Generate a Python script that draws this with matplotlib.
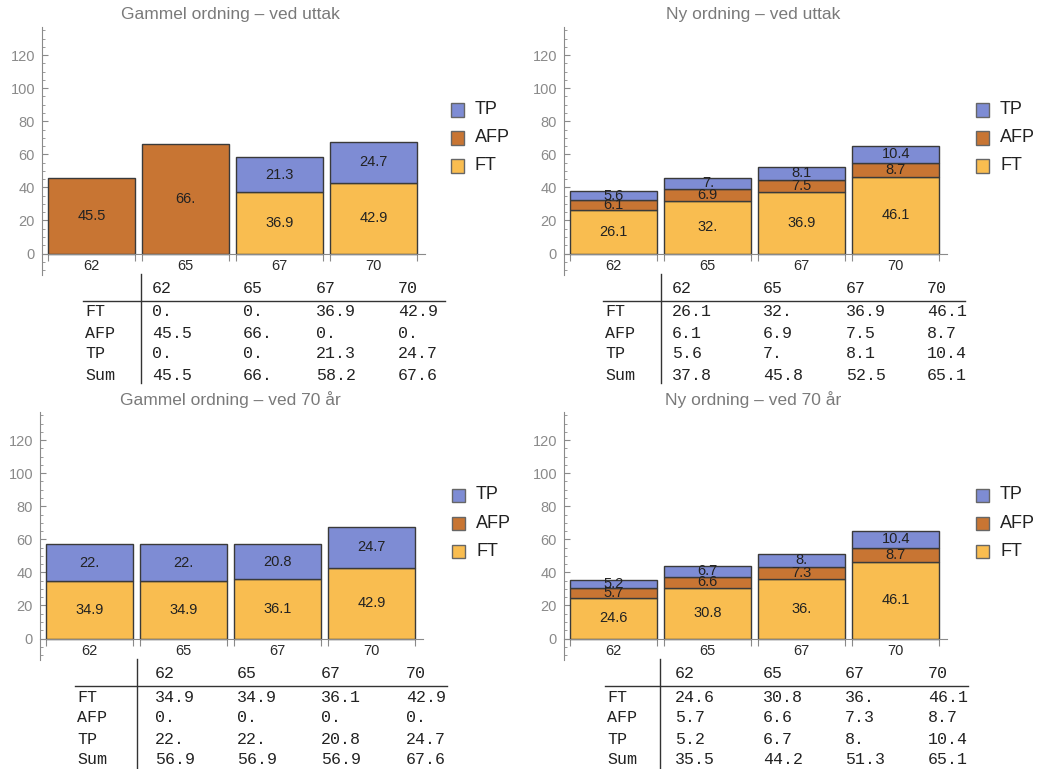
import matplotlib
matplotlib.use("Agg")
import matplotlib.pyplot as plt
from matplotlib.lines import Line2D
from matplotlib.patches import Rectangle
import numpy as np

W, H = 1039, 769

ages = ["62", "65", "67", "70"]
series = ["FT", "AFP", "TP"]

titles = ["Gammel ordning \u2013 ved uttak", "Ny ordning \u2013 ved uttak",
          "Gammel ordning \u2013 ved 70 \u00e5r", "Ny ordning \u2013 ved 70 \u00e5r"]

# gammel ordning, ved uttak
go_uttak_ft = [0, 0, 36.9, 42.9]
go_uttak_afp = [45.5, 66, 0, 0]
go_uttak_tp = [0, 0, 21.3, 24.7]
go_uttak_sum = [45.5, 66, 58.2, 67.6]

# ny ordning, ved uttak
ny_uttak_ft = [26.1, 32, 36.9, 46.1]
ny_uttak_afp = [6.1, 6.9, 7.5, 8.7]
ny_uttak_tp = [5.6, 7, 8.1, 10.4]
ny_uttak_sum = [37.8, 45.8, 52.5, 65.1]

# gammel ordning, ved 70 aar
go_70_ft = [34.9, 34.9, 36.1, 42.9]
go_70_afp = [0, 0, 0, 0]
go_70_tp = [22, 22, 20.8, 24.7]
go_70_sum = [56.9, 56.9, 56.9, 67.6]

# ny ordning, ved 70 aar
ny_70_ft = [24.6, 30.8, 36, 46.1]
ny_70_afp = [5.7, 6.6, 7.3, 8.7]
ny_70_tp = [5.2, 6.7, 8, 10.4]
ny_70_sum = [35.5, 44.2, 51.3, 65.1]

panels = [
    (go_uttak_ft, go_uttak_afp, go_uttak_tp, go_uttak_sum),
    (ny_uttak_ft, ny_uttak_afp, ny_uttak_tp, ny_uttak_sum),
    (go_70_ft, go_70_afp, go_70_tp, go_70_sum),
    (ny_70_ft, ny_70_afp, ny_70_tp, ny_70_sum),
]

colors = {"FT": "#F9BD50", "AFP": "#C87533", "TP": "#7E8CD4"}

# layout in pixels: y-axis x, plot top, title x, legend x, table layout
axis_x = [42, 564, 40, 564]
row_off = [0, 0, 385, 385]
title_x = [230, 753, 230, 753]
legend_x = [451, 976, 452, 976]
tab_label_x = [85, 605, 77, 607]
tab_vline_x = [141, 661, 137, 660]
tab_cols = [[152, 243, 316, 398], [672, 763, 846, 927],
            [155, 237, 321, 406], [675, 763, 845, 928]]
tab_right = [445, 965, 447, 968]


def fmt(v):
    if float(v).is_integer():
        return f"{int(v)}."
    return f"{v}"


def fx(x):
    return x / W


def fy(y):
    return 1 - y / H


fig = plt.figure(figsize=(W / 100, H / 100), dpi=100)
fig.patch.set_facecolor("white")

xlim = (-0.53, 3.54)
slot = 94.0
for i, (ft, afp, tp, tot) in enumerate(panels):
    off = row_off[i]
    left = axis_x[i]
    width = (xlim[1] - xlim[0]) * slot
    top, bottom = 27 + off, 275 + off
    ax = fig.add_axes([fx(left), fy(bottom), width / W, (bottom - top) / H])
    ax.set_xlim(*xlim)
    ax.set_ylim(-13, 137)
    ax.patch.set_alpha(0)

    x = np.arange(len(ages))
    base = np.zeros(len(ages))
    for name, vals in zip(series, [ft, afp, tp]):
        vals = np.array(vals, dtype=float)
        mask = vals > 0
        ax.bar(x[mask], vals[mask], bottom=base[mask], width=0.926,
               color=colors[name], edgecolor="#3a3a3a", linewidth=1.0, zorder=2)
        for xi, b, v in zip(x[mask], base[mask], vals[mask]):
            ax.text(xi, b + v / 2, fmt(v), ha="center", va="center",
                    fontsize=10.5, color="#222222", family="Liberation Sans", zorder=3)
        base = base + vals

    for s in ["top", "right"]:
        ax.spines[s].set_visible(False)
    ax.spines["bottom"].set_position(("data", 0))
    ax.spines["left"].set_position(("data", xlim[0]))
    ax.spines["left"].set_color("#8a8a8a")
    ax.spines["bottom"].set_color("#8a8a8a")

    ax.set_yticks(range(0, 121, 20))
    ax.set_yticks(range(-10, 136, 5), minor=True)
    ax.tick_params(axis="y", which="major", direction="in", length=4.5,
                   color="#8a8a8a", labelcolor="#8a8a8a", labelsize=10.5, pad=5)
    ax.tick_params(axis="y", which="minor", direction="in", length=2.5,
                   color="#8a8a8a")
    for lab in ax.get_yticklabels():
        lab.set_family("Liberation Sans")

    edges = np.concatenate([x - 0.463, x + 0.463])
    ax.set_xticks(np.sort(edges))
    ax.set_xticklabels([""] * len(edges))
    ax.set_xticks(x, minor=True)
    ax.set_xticklabels(ages, minor=True)
    ax.tick_params(axis="x", which="major", direction="out", length=5,
                   color="#8a8a8a")
    ax.tick_params(axis="x", which="minor", length=0, labelsize=10.5,
                   labelcolor="#2a2a2a", pad=4)
    for lab in ax.get_xticklabels(minor=True):
        lab.set_family("Liberation Sans")

    fig.text(fx(title_x[i]), fy(15 + off), titles[i], ha="center", va="center",
             fontsize=12.5, color="#7a7a7a", family="Liberation Sans")

    # legend
    for k, name in enumerate(["TP", "AFP", "FT"]):
        cy = 110 + off + 28 * k
        fig.add_artist(Rectangle((fx(legend_x[i]), fy(cy + 6.5)), 13 / W, 13 / H,
                                 transform=fig.transFigure, facecolor=colors[name],
                                 edgecolor="#666666", linewidth=1.0))
        fig.text(fx(legend_x[i] + 24), fy(cy), name, ha="left", va="center",
                 fontsize=13, color="#222222", family="Liberation Sans")

    # table
    rows_y = [288 + off, 312 + off, 333 + off, 354 + off, 375 + off]
    tfont = dict(fontsize=12, color="#222222", family="Liberation Mono",
                 va="center", ha="left")
    for c, a in enumerate(ages):
        fig.text(fx(tab_cols[i][c]), fy(rows_y[0]), a, **tfont)
    table_rows = [("FT", ft), ("AFP", afp), ("TP", tp), ("Sum", tot)]
    for r, (lab, vals) in enumerate(table_rows):
        fig.text(fx(tab_label_x[i]), fy(rows_y[r + 1]), lab, **tfont)
        for c, v in enumerate(vals):
            fig.text(fx(tab_cols[i][c]), fy(rows_y[r + 1]), fmt(v), **tfont)
    fig.add_artist(Line2D([fx(tab_vline_x[i])] * 2, [fy(274 + off), fy(383 + off)],
                          transform=fig.transFigure, color="#333333", linewidth=1.0))
    fig.add_artist(Line2D([fx(tab_label_x[i] - 2), fx(tab_right[i])], [fy(301 + off)] * 2,
                          transform=fig.transFigure, color="#333333", linewidth=1.0))

fig.savefig("out.png", dpi=100, facecolor="white")
